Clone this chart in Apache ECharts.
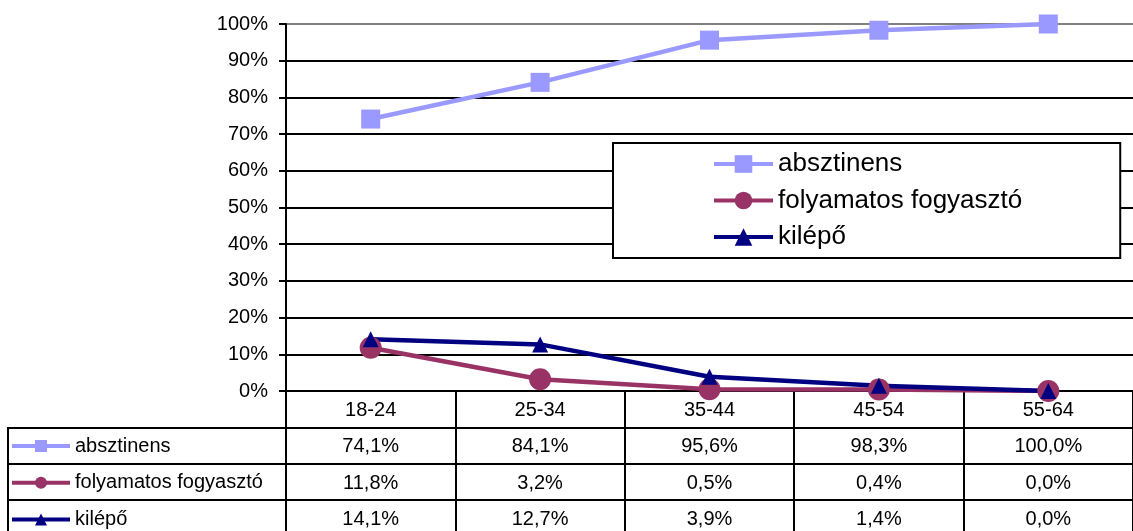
<!DOCTYPE html>
<html>
<head>
<meta charset="utf-8">
<script src="https://cdn.jsdelivr.net/npm/echarts@6/dist/echarts.min.js"></script>
<style>
  html, body { margin: 0; padding: 0; background: #fff; overflow: hidden; }
  #chart { width: 1133px; height: 531px; }
</style>
</head>
<body>
<div id="chart"></div>
<script>
// Age groups (x axis) and the share of each drinking status per group, in percent
const categories = ['18-24', '25-34', '35-44', '45-54', '55-64'];
const seriesNames = ['absztinens', 'folyamatos fogyasztó', 'kilépő'];
const absztinens = [74.1, 84.1, 95.6, 98.3, 100.0];
const folyamatos = [11.8, 3.2, 0.5, 0.4, 0.0];
const kilepo = [14.1, 12.7, 3.9, 1.4, 0.0];
const yTicks = [0, 10, 20, 30, 40, 50, 60, 70, 80, 90, 100];

const FONT = "'Liberation Sans', Arial, sans-serif";
const colors = ['#9999FF', '#993366', '#000080'];
const values = [absztinens, folyamatos, kilepo];

// Hungarian number format: decimal comma
const fmt = v => v.toFixed(1).replace('.', ',') + '%';

// Each category label carries its column of the data table underneath
const columnLabel = (value) => {
  const i = categories.indexOf(value);
  return [value].concat(values.map(arr => fmt(arr[i]))).join('\n');
};

// Split line colours: black grid, grey top border
const splitColors = yTicks.map((t, i) => i === yTicks.length - 1 ? '#808080' : '#000000');

const chart = echarts.init(document.getElementById('chart'), null, { renderer: 'canvas', width: 1133, height: 531 });

const option = {
  animation: false,
  backgroundColor: '#ffffff',
  textStyle: { fontFamily: FONT, color: '#000' },
  grid: { left: 286, width: 847, top: 24, height: 367, containLabel: false, outerBoundsMode: 'none' },
  legend: [
    {
      // boxed legend inside the plot
      data: seriesNames,
      orient: 'vertical',
      left: 613,
      top: 143,
      height: 200,
      padding: [8, 98, 8, 99],
      backgroundColor: '#ffffff',
      borderColor: '#000000',
      borderWidth: 2,
      borderRadius: 0,
      itemWidth: 59,
      itemHeight: 22,
      itemGap: 10.5,
      itemTextGap: 4,
      selectedMode: false,
      lineStyle: { width: 4 },
      textStyle: { fontFamily: FONT, fontSize: 26, lineHeight: 26, color: '#000' }
    },
    {
      // row keys of the data table
      data: seriesNames,
      orient: 'vertical',
      left: 10,
      top: 436,
      height: 200,
      padding: 0,
      itemWidth: 58,
      itemHeight: 15,
      itemGap: 16.8,
      itemTextGap: 4,
      selectedMode: false,
      lineStyle: { width: 4 },
      textStyle: { fontFamily: FONT, fontSize: 20, lineHeight: 16, color: '#000' }
    }
  ],
  xAxis: {
    type: 'category',
    data: categories,
    boundaryGap: true,
    axisLine: { show: true, lineStyle: { color: '#000', width: 2 } },
    axisTick: { show: true, length: 140, lineStyle: { color: '#000', width: 2 } },
    axisLabel: {
      interval: 0,
      margin: 1,
      fontFamily: FONT,
      fontSize: 20,
      lineHeight: 36.5,
      color: '#000',
      formatter: columnLabel
    },
    splitLine: { show: false }
  },
  yAxis: {
    type: 'value',
    min: yTicks[0],
    max: yTicks[yTicks.length - 1],
    interval: 10,
    axisLine: { show: true, lineStyle: { color: '#000', width: 2 } },
    axisTick: { show: true, length: 7, lineStyle: { color: '#000', width: 2 } },
    axisLabel: { margin: 18, fontFamily: FONT, fontSize: 20, color: '#000', formatter: '{value}%' },
    splitLine: { show: true, lineStyle: { color: splitColors, width: 2 } }
  },
  series: [
    {
      name: seriesNames[0],
      type: 'line',
      data: absztinens,
      color: colors[0],
      symbol: 'rect',
      symbolSize: 19,
      lineStyle: { width: 4.5, color: colors[0] },
      itemStyle: { color: colors[0] }
    },
    {
      name: seriesNames[1],
      type: 'line',
      data: folyamatos,
      color: colors[1],
      symbol: 'circle',
      symbolSize: 22,
      lineStyle: { width: 4.5, color: colors[1] },
      itemStyle: { color: colors[1] }
    },
    {
      name: seriesNames[2],
      type: 'line',
      data: kilepo,
      color: colors[2],
      symbol: 'triangle',
      symbolSize: 16,
      lineStyle: { width: 4.5, color: colors[2] },
      itemStyle: { color: colors[2] }
    }
  ]
};

chart.setOption(option);

// Table frame: row separators and the left border of the key column
const rowLines = [428, 464, 500];
const graphics = rowLines.map(y => ({
  type: 'line',
  shape: { x1: 7, y1: y, x2: 1133, y2: y },
  style: { stroke: '#000', lineWidth: 2 },
  z: 10
}));
graphics.push({
  type: 'line',
  shape: { x1: 8, y1: 427, x2: 8, y2: 531 },
  style: { stroke: '#000', lineWidth: 2 },
  z: 10
});
chart.setOption({ graphic: graphics });
</script>
</body>
</html>
